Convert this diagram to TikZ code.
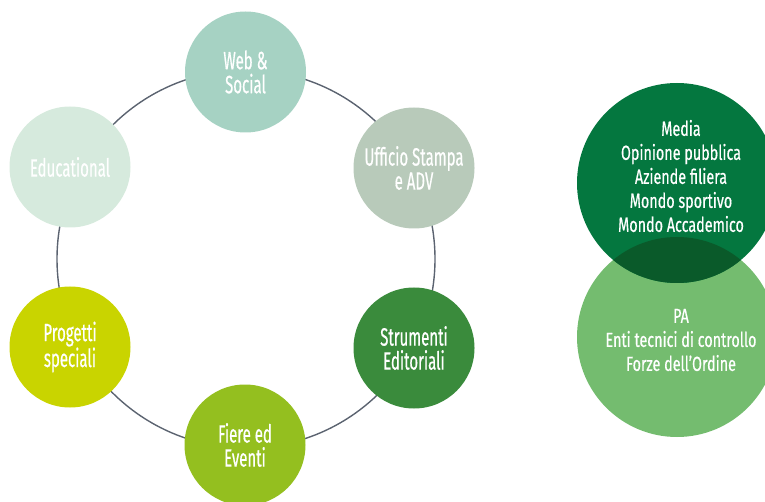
\documentclass[tikz,border=0pt]{standalone}
\usepackage{fontspec}
\newfontfamily\condfont[FakeStretch=0.6,FakeBold=0.5]{Fira Sans}
\newfontfamily\condfontb[FakeStretch=0.7,FakeBold=0.5]{Fira Sans}
\definecolor{cweb}{HTML}{A6D2C3}
\definecolor{cedu}{HTML}{D6EADD}
\definecolor{cuff}{HTML}{B8CABA}
\definecolor{cstr}{HTML}{3A8B3C}
\definecolor{cfie}{HTML}{94BF1F}
\definecolor{cpro}{HTML}{C9D400}
\definecolor{cdark}{HTML}{04773F}
\definecolor{clight}{HTML}{74BC6F}
\definecolor{cover}{HTML}{0A5A2A}
\definecolor{cring}{HTML}{5B6370}
\begin{document}
\begin{tikzpicture}[x=1pt,y=-1pt,
  bubble/.style={circle, minimum size=121pt, inner sep=0pt, text=white, align=center,
    font=\condfont\fontsize{25}{24}\selectfont},
  bigtext/.style={text=white, align=center, font=\condfontb\fontsize{20.5}{24}\selectfont},
  ringline/.style={draw=cring, line width=1.4pt}]
\useasboundingbox (0,0) rectangle (765,502);
\coordinate (ringc) at (246,259);
\draw[ringline] (ringc) circle[radius=189];
\node[bubble, fill=cweb] (web) at (245.5,72) {Web \&\\Social};
\node[bubble, fill=cuff] (uff) at (414,168) {Ufficio Stampa\\e ADV};
\node[bubble, fill=cstr] (str) at (414,348) {Strumenti\\Editoriali};
\node[bubble, fill=cfie] (fie) at (245,445) {Fiere ed\\Eventi};
\node[bubble, fill=cpro] (pro) at (70,347) {Progetti\\speciali};
\node[bubble, fill=cedu] (edu) at (70,167) {Educational};
% right
\coordinate (dc) at (677,183);
\coordinate (lc) at (677,337);
\fill[clight] (lc) circle[radius=100];
\fill[cdark] (dc) circle[radius=100];
\begin{scope}
\clip (lc) circle[radius=100];
\fill[cover] (dc) circle[radius=100];
\end{scope}
\node[bigtext] (dtext) at (681,176) {Media\\Opinione pubblica\\Aziende filiera\\Mondo sportivo\\Mondo Accademico};
\node[bigtext] (ltext) at (681,340) {PA\\Enti tecnici di controllo\\Forze dell’Ordine};
\end{tikzpicture}
\end{document}
